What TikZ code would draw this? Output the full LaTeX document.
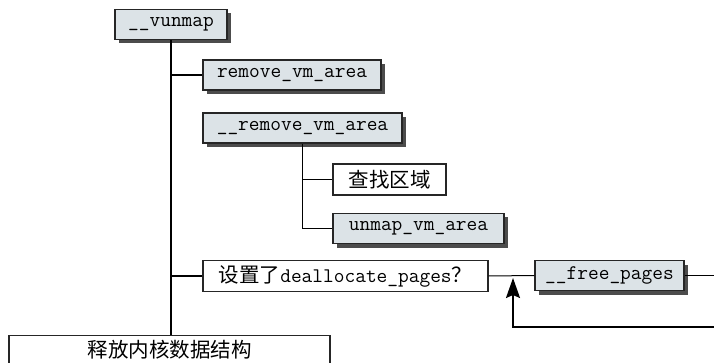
\documentclass[tikz,border=0pt]{standalone}
\usepackage{fontspec}
\newfontfamily\cjk{Noto Sans CJK SC}
\usepackage{xcolor}
\usetikzlibrary{arrows.meta,shadows}
\definecolor{boxgray}{RGB}{220,227,231}
\newcommand{\hz}[1]{{\cjk\fontsize{20.5}{22}\selectfont #1}}
\tikzset{
    fnbox/.style={ % 函数框（带阴影）
        draw=black!85, line width=1.1pt, fill=boxgray,
        drop shadow={shadow xshift=4pt, shadow yshift=-4pt, fill=black!70, opacity=1},
        inner sep=0pt, minimum height=30pt,
        font=\ttfamily\fontsize{20.8}{22}\selectfont
    },
    stepbox/.style={ % 普通步骤框
        draw=black!85, line width=1.1pt, fill=white,
        inner sep=0pt, minimum height=31pt,
        font=\ttfamily\fontsize{20.8}{22}\selectfont
    },
    link/.style={line width=1.8pt}
}
\begin{document}
\begin{tikzpicture}[
                x=1pt, y=-1pt, % 按像素取坐标
            ]
            \useasboundingbox (0,0) rectangle (714,363);
            \clip (0,0) rectangle (714,363);
            % 各个框
            \node[fnbox, minimum width=112pt] (vunmap) at (171,24.5) {\_\_vunmap};
            \node[fnbox, minimum width=178pt] (rmarea) at (292,75) {remove\_vm\_area};
            \node[fnbox, minimum width=199pt] (rmareaint) at (302.5,128) {\_\_remove\_vm\_area};
            \node[stepbox, minimum width=113pt] (findarea) at (389.5,179.5) {\hz{查找区域}};
            \node[fnbox, minimum width=171pt] (unmaparea) at (418.5,228.5) {unmap\_vm\_area};
            \node[stepbox, minimum width=285pt] (dealloc) at (345.5,276) {\hz{设置了}deallocate\_pages\hz{？}};
            \node[fnbox, minimum width=149pt] (freepages) at (609.5,275.5) {\_\_free\_pages};
            \node[stepbox, minimum width=321pt, minimum height=29pt, anchor=north] (freedata) at (169.5,335) {\hz{释放内核数据结构}};
            % 右侧出口
            \coordinate (outR) at (714,275.5);
            \coordinate (loopin) at (714,327);
            \coordinate (looptip) at (513,278);
            % 主干
            \draw[link] (vunmap.south) -- (vunmap.south |- freedata.north);
            \draw[link] (vunmap.south |- rmarea.west) -- (rmarea.west);
            \draw[link] (vunmap.south |- dealloc.west) -- (dealloc.west);
            % 分支
            \draw[link] (rmareaint.south) -- (rmareaint.south |- unmaparea.west) -- (unmaparea.west);
            \draw[link] (rmareaint.south |- findarea.west) -- (findarea.west);
            \draw[line width=1pt] (dealloc.east) -- (freepages.west);
            \draw[link] (freepages.east) -- (outR);
            \draw[link, -{Stealth[length=20pt,width=14pt,inset=3pt]}] (loopin) -- (loopin -| looptip) -- (looptip);
            \end{tikzpicture}
\end{document}
